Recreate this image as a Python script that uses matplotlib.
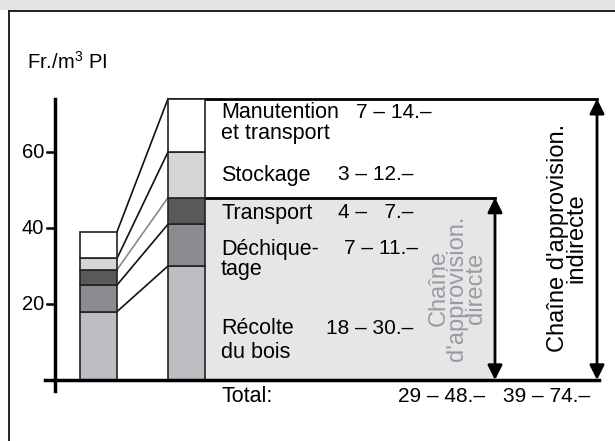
import matplotlib.pyplot as plt
import numpy as np
from matplotlib.patches import Rectangle
from matplotlib.lines import Line2D

plt.rcParams['font.family'] = ['Liberation Sans', 'DejaVu Sans']
plt.rcParams['mathtext.fontset'] = 'custom'
plt.rcParams['mathtext.rm'] = 'Liberation Sans'

# coûts par poste (Fr./m3 PI), du bas vers le haut
postes = ['Récolte\ndu bois', 'Déchique-\ntage', 'Transport', 'Stockage', 'Manutention\net transport']
cout_min = [18, 7, 4, 3, 7]
cout_max = [30, 11, 7, 12, 14]
couleurs = ['#bdbec2', '#8b8c90', '#58595b', '#d4d5d7', '#ffffff']
etiquettes_min = ['18', '7', '4', '3', '7']
etiquettes_max = ['30.–', '11.–', '  7.–', '12.–', '14.–']
total_direct = (29, 48)
total_indirect = (39, 74)
y_ticks = [20, 40, 60]

# axes sur toute la figure : x en pixels, y en Fr. (0 -> py 380, 3.8 px par Fr.)
def Y(py):
    return (380 - py) / 3.8

fig = plt.figure(figsize=(6.15, 4.41), dpi=100)
ax = fig.add_axes([0, 0, 1, 1])
ax.set_xlim(0, 615)
ax.set_ylim(Y(441), Y(0))
ax.axis('off')

# cadre
fig.patches.append(Rectangle((0, 1 - 10 / 441), 1, 10 / 441, transform=fig.transFigure,
                             facecolor='#e3e3e3', edgecolor='none', zorder=0))
fig.lines.append(Line2D([9 / 615, 9 / 615], [0, 1 - 10.5 / 441], transform=fig.transFigure,
                        color='#222222', lw=1.4))
fig.lines.append(Line2D([9 / 615, 1], [1 - 10.5 / 441, 1 - 10.5 / 441], transform=fig.transFigure,
                        color='#222222', lw=1.4))

# zone chaîne directe
ax.add_patch(Rectangle((205, 0), 290, total_direct[1], facecolor='#e5e6e8', edgecolor='none', zorder=1))
ax.plot([205, 495], [total_direct[1]] * 2, color='black', lw=2, zorder=3)
ax.plot([168, 597], [total_indirect[1]] * 2, color='black', lw=2, zorder=3)

# barres empilées
cum_min = np.concatenate([[0], np.cumsum(cout_min)])
cum_max = np.concatenate([[0], np.cumsum(cout_max)])
for i in range(len(postes)):
    ax.bar(98.5, cout_min[i], bottom=cum_min[i], width=37, color=couleurs[i],
           edgecolor='#222222', lw=1.2, zorder=4)
    ax.bar(186.5, cout_max[i], bottom=cum_max[i], width=37, color=couleurs[i],
           edgecolor='#222222', lw=1.2, zorder=4)

# lignes de liaison
for i in range(1, len(cum_min)):
    c = '#888888' if i == 3 else '#111111'
    ax.plot([117, 168], [cum_min[i], cum_max[i]], color=c, lw=1.2, zorder=3)

# axes
ax.plot([55, 55], [Y(391), total_indirect[1]], color='black', lw=2.5, zorder=5)
ax.plot([45, 599], [0, 0], color='black', lw=2.5, zorder=5)
for t in y_ticks:
    ax.plot([47, 55], [t, t], color='black', lw=1.8, zorder=5)
    ax.text(44, t, str(t), ha='right', va='center', fontsize=14.5)

ax.text(27, Y(62), r'Fr./m$^{3}$ PI', ha='left', va='center', fontsize=14.5)

# étiquettes des postes
fs_mot = 15.5
fs_num = 15
pos_y = [(Y(329), Y(352)), (Y(249), Y(270)), (Y(213),), (Y(175),), (Y(113), Y(133))]
for i in range(len(postes)):
    lignes = postes[i].split('\n')
    for j, l in enumerate(lignes):
        ax.text(221, pos_y[i][j], l, ha='left', va='center', fontsize=fs_mot, zorder=6)
    xr = 432 if i == 4 else (418 if i == 1 else 413)
    ax.text(xr, pos_y[i][0], f'{etiquettes_min[i]} – {etiquettes_max[i]}', ha='right', va='center',
            fontsize=fs_num, zorder=6)

ax.text(221, Y(396), 'Total:', ha='left', va='center', fontsize=fs_mot)
ax.text(485, Y(396), f'{total_direct[0]} – {total_direct[1]}.–', ha='right', va='center', fontsize=fs_num)
ax.text(590, Y(396), f'{total_indirect[0]} – {total_indirect[1]}.–', ha='right', va='center', fontsize=fs_num)

# flèches
arrow = dict(arrowstyle='<|-|>', color='black', lw=2, mutation_scale=22, shrinkA=0, shrinkB=0)
ax.annotate('', xy=(495, 0), xytext=(495, total_direct[1]), arrowprops=arrow, zorder=6)
ax.annotate('', xy=(597, 0), xytext=(597, total_indirect[1]), arrowprops=arrow, zorder=6)

ax.text(457, Y(288), "Chaîne\nd'approvision.\ndirecte", rotation=90, ha='center', va='center',
        multialignment='center', color='#9a9b9e', fontsize=17, linespacing=0.8)
ax.text(567, Y(238), "Chaîne d'approvision.\nindirecte", rotation=90, ha='center', va='center',
        multialignment='center', color='black', fontsize=17, linespacing=0.8)

fig.savefig('out.png', dpi=100)
